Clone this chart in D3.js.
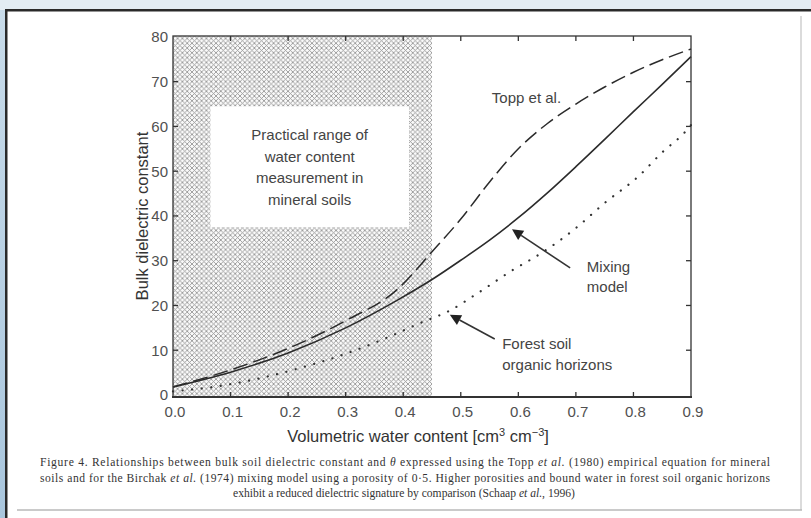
<!DOCTYPE html>
<html><head><meta charset="utf-8">
<script src="https://cdn.jsdelivr.net/npm/d3@7/dist/d3.min.js"></script>
<style>html,body{margin:0;padding:0;background:#fff;}svg{display:block;}</style>
</head><body>
<script>
// ---- data ----
const xTicks = [0, 0.1, 0.2, 0.3, 0.4, 0.5, 0.6, 0.7, 0.8, 0.9];
const xTickLabels = ["0.0","0.1","0.2","0.3","0.4","0.5","0.6","0.7","0.8","0.9"];
const yTicks = [0, 10, 20, 30, 40, 50, 60, 70, 80];

const toppTheta = [0, 0.1, 0.2, 0.3, 0.39, 0.45, 0.5, 0.55, 0.6, 0.65, 0.7, 0.75, 0.8, 0.85, 0.9];
const toppEps   = [1.8, 5.6, 10.4, 16.6, 23.6, 32.0, 39.3, 47.6, 55.0, 60.6, 65.0, 68.8, 72.1, 74.9, 77.3];

const mixTheta = [0, 0.1, 0.2, 0.3, 0.39, 0.45, 0.5, 0.55, 0.6, 0.65, 0.7, 0.75, 0.8, 0.85, 0.9];
const mixEps   = [1.8, 5.1, 9.4, 15.0, 21.2, 25.8, 30.1, 34.6, 39.6, 45.1, 51.0, 57.1, 63.3, 69.4, 75.6];

const forestTheta = [0, 0.07, 0.16, 0.22, 0.3, 0.37, 0.43, 0.48, 0.53, 0.59, 0.64, 0.7, 0.75, 0.81, 0.85, 0.89, 0.9];
const forestEps   = [0.8, 1.8, 4.0, 6.0, 9.2, 12.7, 16.1, 18.8, 22.8, 27.9, 31.7, 37.3, 42.9, 49.0, 54.2, 58.8, 60.3];

const practicalRange = [0, 0.45];          // hatched theta range
const boxTheta = [0.065, 0.41];            // white label box
const boxEps = [37.5, 64.5];
const boxLines = ["Practical range of", "water content", "measurement in", "mineral soils"];

const captionLines = [
  [["Figure 4. Relationships between bulk soil dielectric constant and ",0],["θ",1],[" expressed using the Topp ",0],["et al.",1],[" (1980) empirical equation for mineral",0]],
  [["soils and for the Birchak ",0],["et al.",1],[" (1974) mixing model using a porosity of 0·5. Higher porosities and bound water in forest soil organic horizons",0]],
  [["exhibit a reduced dielectric signature by comparison (Schaap ",0],["et al.",1],[", 1996)",0]]
];

// ---- drawing ----
const W = 811, H = 518;
const svg = d3.select("body").append("svg").attr("width", W).attr("height", H);
const defs = svg.append("defs");

const g1 = defs.append("linearGradient").attr("id","bgblue").attr("x1",0).attr("y1",0).attr("x2",0).attr("y2",1);
g1.append("stop").attr("offset","0").attr("stop-color","#c9dcea");
g1.append("stop").attr("offset","1").attr("stop-color","#a9c6dd");
svg.append("rect").attr("width",W).attr("height",H).attr("fill","url(#bgblue)");
svg.append("rect").attr("x",0).attr("y",0).attr("width",W).attr("height",10).attr("fill","#e3ecf3");

// page panel
svg.append("rect").attr("x",7).attr("y",11).attr("width",W-7).attr("height",H-11).attr("fill","#ffffff");
svg.append("rect").attr("x",5).attr("y",9).attr("width",W-5).attr("height",2.5).attr("fill","#2a2a2a");
svg.append("rect").attr("x",5).attr("y",9).attr("width",2.5).attr("height",H-9).attr("fill","#2a2a2a");
svg.append("line").attr("x1",801).attr("y1",16).attr("x2",801).attr("y2",510).attr("stroke","#cfcfcf").attr("stroke-width",1.5);
svg.append("line").attr("x1",17).attr("y1",510).attr("x2",802).attr("y2",510).attr("stroke","#b8b8b8").attr("stroke-width",1.5);

const L = 173, R = 691, T = 36, B = 397;
const x = d3.scaleLinear().domain([0, 0.9]).range([L, R]);
const y = d3.scaleLinear().domain([-0.45, 80.2]).range([B, T]);

// hatch pattern
const ps = 4.8;
const pat = defs.append("pattern").attr("id","hatch").attr("patternUnits","userSpaceOnUse")
  .attr("width",ps).attr("height",ps);
pat.append("rect").attr("width",ps).attr("height",ps).attr("fill","#fafafa");
pat.append("path").attr("d",`M0,0L${ps},${ps}M${ps},0L0,${ps}`).attr("stroke","#929292").attr("stroke-width",0.85);

const plot = svg.append("g");
plot.append("rect").attr("x",x(practicalRange[0])).attr("y",T)
  .attr("width",x(practicalRange[1])-x(practicalRange[0])).attr("height",B-T).attr("fill","url(#hatch)");
plot.append("rect").attr("x",x(boxTheta[0])).attr("y",y(boxEps[1]))
  .attr("width",x(boxTheta[1])-x(boxTheta[0])).attr("height",y(boxEps[0])-y(boxEps[1])).attr("fill","#fff");

const boxCx = (x(boxTheta[0])+x(boxTheta[1]))/2;
plot.append("g").selectAll("text").data(boxLines).join("text")
  .attr("x",boxCx).attr("y",(d,i)=>140+i*21.7)
  .attr("text-anchor","middle").attr("font-family","Liberation Sans, Arial, sans-serif")
  .attr("font-size",15).attr("fill","#444").text(d=>d);

// curves
const line = d3.line().x(d=>x(d[0])).y(d=>y(d[1])).curve(d3.curveMonotoneX);
const z = (a,b)=>a.map((v,i)=>[v,b[i]]);
plot.append("path").attr("d",line(z(mixTheta,mixEps))).attr("fill","none").attr("stroke","#2b2b2b").attr("stroke-width",1.6);
plot.append("path").attr("d",line(z(toppTheta,toppEps))).attr("fill","none").attr("stroke","#2b2b2b").attr("stroke-width",1.5).attr("stroke-dasharray","15,6");
plot.append("path").attr("d",line(z(forestTheta,forestEps))).attr("fill","none").attr("stroke","#333").attr("stroke-width",2.2)
  .attr("stroke-linecap","round").attr("stroke-dasharray","0.1,9.5");

// frame + ticks (inward, all four sides)
const frame = svg.append("g").attr("stroke","#333");
frame.append("rect").attr("x",L).attr("y",T).attr("width",R-L).attr("height",B-T).attr("fill","none").attr("stroke-width",1.3);
frame.append("line").attr("x1",L-1).attr("x2",R+1).attr("y1",B).attr("y2",B).attr("stroke-width",2.2);
const tl = 5;
frame.selectAll(".xb").data(xTicks.slice(1,-1)).join("line").attr("class","xb").attr("x1",d=>x(d)).attr("x2",d=>x(d)).attr("y1",B).attr("y2",B-tl).attr("stroke-width",1.3);
frame.selectAll(".xt").data(xTicks.slice(1,-1)).join("line").attr("class","xt").attr("x1",d=>x(d)).attr("x2",d=>x(d)).attr("y1",T).attr("y2",T+tl).attr("stroke-width",1.3);
frame.selectAll(".yl").data(yTicks.slice(1,-1)).join("line").attr("class","yl").attr("x1",L).attr("x2",L+tl).attr("y1",d=>y(d)).attr("y2",d=>y(d)).attr("stroke-width",1.3);
frame.selectAll(".yr").data(yTicks.slice(1,-1)).join("line").attr("class","yr").attr("x1",R).attr("x2",R-tl).attr("y1",d=>y(d)).attr("y2",d=>y(d)).attr("stroke-width",1.3);

// tick labels
const font = "Liberation Sans, Arial, sans-serif";
svg.append("g").selectAll("text").data(xTicks).join("text")
  .attr("x",d=>x(d)+2).attr("y",B+20).attr("text-anchor","middle")
  .attr("font-family",font).attr("font-size",15).attr("fill","#505050")
  .text((d,i)=>xTickLabels[i]);
svg.append("g").selectAll("text").data(yTicks).join("text")
  .attr("x",L-5).attr("y",d=>y(d)+5.5).attr("text-anchor","end")
  .attr("font-family",font).attr("font-size",15).attr("fill","#505050")
  .text(d=>d);

// axis titles
const xt = svg.append("text").attr("x",418).attr("y",442).attr("text-anchor","middle")
  .attr("font-family",font).attr("font-size",16.5).attr("fill","#333");
xt.append("tspan").text("Volumetric water content [cm");
xt.append("tspan").attr("font-size",11).attr("dy",-6).text("3");
xt.append("tspan").attr("dy",6).text(" cm");
xt.append("tspan").attr("font-size",11).attr("dy",-6).text("−3");
xt.append("tspan").attr("dy",6).text("]");

svg.append("text").attr("transform","translate(148,216) rotate(-90)").attr("text-anchor","middle")
  .attr("font-family",font).attr("font-size",16.5).attr("fill","#333").text("Bulk dielectric constant");

// annotations
const ann = svg.append("g").attr("font-family",font).attr("font-size",15).attr("fill","#444");
ann.append("text").attr("x",x(0.554)).attr("y",y(65.3)).text("Topp et al.");
ann.append("text").attr("x",x(0.719)).attr("y",y(27.5)).text("Mixing");
ann.append("text").attr("x",x(0.719)).attr("y",y(23.0)).text("model");
ann.append("text").attr("x",x(0.572)).attr("y",y(10.3)).text("Forest soil");
ann.append("text").attr("x",x(0.572)).attr("y",y(5.6)).text("organic horizons");

function arrow(t0, e0, t1, e1) {
  const x0 = x(t0), y0 = y(e0), x1 = x(t1), y1 = y(e1);
  const a = Math.atan2(y1-y0, x1-x0);
  const hl = 11, hw = 5.5;
  const bx = x1 - hl*Math.cos(a), by = y1 - hl*Math.sin(a);
  svg.append("line").attr("x1",x0).attr("y1",y0).attr("x2",bx).attr("y2",by).attr("stroke","#333").attr("stroke-width",1.6);
  const px = -Math.sin(a)*hw, py = Math.cos(a)*hw;
  svg.append("path").attr("d",`M${x1},${y1}L${bx+px},${by+py}L${bx-px},${by-py}Z`).attr("fill","#222");
}
arrow(0.69, 28.4, 0.589, 37.0);
arrow(0.559, 12.5, 0.481, 17.9);

// caption
const cap = svg.append("g").attr("font-family","Liberation Serif, Times New Roman, serif").attr("font-size",11.6).attr("fill","#333");
const capY = [466, 482, 497];
captionLines.forEach((ln, i) => {
  const t = cap.append("text").attr("y", capY[i]);
  if (i < 2) { t.attr("x",40).attr("textLength",730).attr("lengthAdjust","spacing"); }
  else { t.attr("x",404).attr("text-anchor","middle"); }
  ln.forEach(([s, it]) => { const sp = t.append("tspan").text(s); if (it) sp.attr("font-style","italic"); });
});
</script>
</body></html>
